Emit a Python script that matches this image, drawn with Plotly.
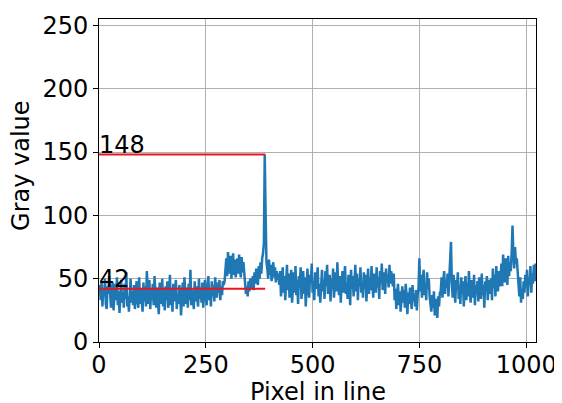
import plotly.graph_objects as go

seg_a = [40,45,33,48,28,42,36,50,30,26,44,38,52,32,27,41,47,25,35,46,
         33,51,29,40,23,43,49,31,39,27,46,34,55,28,36,24,42,50,31,40,
         29,45,26,38,48,33,27,51,30,42,35,24,47,32,44,28,56,37,30,49,
         26,41,33,46,29,52,35,27,43,31,22,47,38,30,50,28,41,25,44,33,
         48,27,36,53,29,42,24,46,32,39,49,26,37,30,45,40,21,34,47,28,
         51,38,30,43,27,46,33,57,29,41,35,26,48,32,44,37,28,50,34,43,
         31,47,27,40,49,35,29,44,52,33,41,28,48,36,45,32,51,40,35,47,
         39,49,33,44,37,48,45]
seg_b = [48,56,66,52,71,58,54,68,50,62,70,53,65,51,60]
seg_c = [66,54,69,58,51,67,55,63,52]
seg_d = [46,38,44,36,48,40,50,42]
seg_e = [44,52,41,55,46,58,49,45,60,50,63,54,66,70]
seg_peak = [78,148,102,63]
seg_g = [58,50,65,53,61,48,57,63,51,59,47,56,49,54]
seg_h = [45,56,36,50,59,39,52,33,47,61,41,54,35,50,57,31,46,55,39,60,
         37,49,30,52,43,59,34,48,56,38,51,28,46,58,41,35,53,47,62,39,
         48,33,55,42,50,59,36,46,31,52,57,40,49,34,56,44,61,38,47,53,
         32,50,42,58,35,49,55,40,63,45,37,52,31,47,56,39,50,60,38,45,
         34,53,48,29,57,42,52,36,47,61,40,54,33,50,44,59,39,48,35,55,
         42,53,32,47,58,38,51,41,60,45,35,54,48,39,59,43,51,34,56,46,
         62,41,49,55,38,58,47,53,43,61,46,56,50,44,54]
seg_i = [33,42,26,38,46,29,40,24,35,44,31,41,27,46,36,22,39,30,43,34,26,45,32,38,28,41,25,37,43]
seg_j = [66]
seg_k = [40,53,35,49,57,37,46,33,55,42,50,36]
seg_l = [31,24,37,27,40,21,34,26,19,36,28,39]
seg_m = [40,51,35,48,56,38,49,43,54,36,50,58]
seg_n = [79]
seg_o = [46,35,53,39,31,49,42,55,34,45,30,51,38,48,28,43,52,33,47,36,
         56,40,31,49,44,35,53,29,45,38,48,32,51,41,34,54,37,45,27,48,
         40,52,33,44,49]
seg_p = [38,50,33,58,43,53,36,60,46,40,56,44]
seg_q = [50,62,44,69,54,47,66,57,45,68,52,63,56,70]
seg_r = [92]
seg_s = [70,58,75,62,66,55]
seg_t = [45,36,51,31,42,34,48,39,53]
seg_u = [43,57,36,51,45,60,39,54,46,61,48,62]

gray = (seg_a + seg_b + seg_c + seg_d + seg_e + seg_peak + seg_g + seg_h + seg_i
        + seg_j + seg_k + seg_l + seg_m + seg_n + seg_o + seg_p + seg_q + seg_r
        + seg_s + seg_t + seg_u)
pixel = list(range(0, 2 * len(gray), 2))

peak_x = 389
max_val = 148
mean_val = 42
levels = [max_val, mean_val]
level_labels = ["148", "42"]

x_ticks = [0, 250, 500, 750, 1000]
y_ticks = [0, 50, 100, 150, 200, 250]
x_title = "Pixel in line"
y_title = "Gray value"

FONT = "DejaVu Sans"

fig = go.Figure()
fig.add_trace(go.Scatter(x=pixel, y=gray, mode="lines",
                         line=dict(color="#1f77b4", width=2.5), showlegend=False))
for lv in levels:
    fig.add_trace(go.Scatter(x=[0, peak_x], y=[lv, lv], mode="lines",
                             line=dict(color="#e8161e", width=2), showlegend=False))

for lv, lab in zip(levels, level_labels):
    fig.add_annotation(x=0, y=lv, text=lab, showarrow=False, xanchor="left",
                       yanchor="bottom", yshift=-6, xshift=-2,
                       font=dict(family=FONT, size=24, color="black"))

# axis titles
fig.add_annotation(xref="paper", yref="paper", x=0.5, y=0, yshift=-50,
                   xanchor="center", yanchor="middle", text=x_title, showarrow=False,
                   font=dict(family=FONT, size=24, color="black"))
fig.add_annotation(xref="paper", yref="paper", x=0, y=0.545, xshift=-78,
                   xanchor="center", yanchor="middle", text=y_title, textangle=-90,
                   showarrow=False, font=dict(family=FONT, size=24, color="black"))

axis_common = dict(showline=True, mirror=True, linecolor="black", linewidth=1,
                   ticks="outside", ticklen=5, tickcolor="black",
                   showgrid=True, gridcolor="#b0b0b0", gridwidth=1,
                   zeroline=False, automargin=False, ticklabeloverflow="allow",
                   tickfont=dict(family=FONT, size=24, color="black"))

fig.update_xaxes(range=[0, 1023], tickvals=x_ticks, ticklabelstandoff=-4, **axis_common)
fig.update_yaxes(range=[0, 255], tickvals=y_ticks, **axis_common)

# the page body adds an 8px offset, so the figure is 8px smaller and margins shifted
fig.update_layout(width=554, height=395, margin=dict(l=91, r=26, t=11, b=61),
                  plot_bgcolor="white", paper_bgcolor="white",
                  font=dict(family=FONT, size=24, color="black"))

fig.write_html("out.html")
